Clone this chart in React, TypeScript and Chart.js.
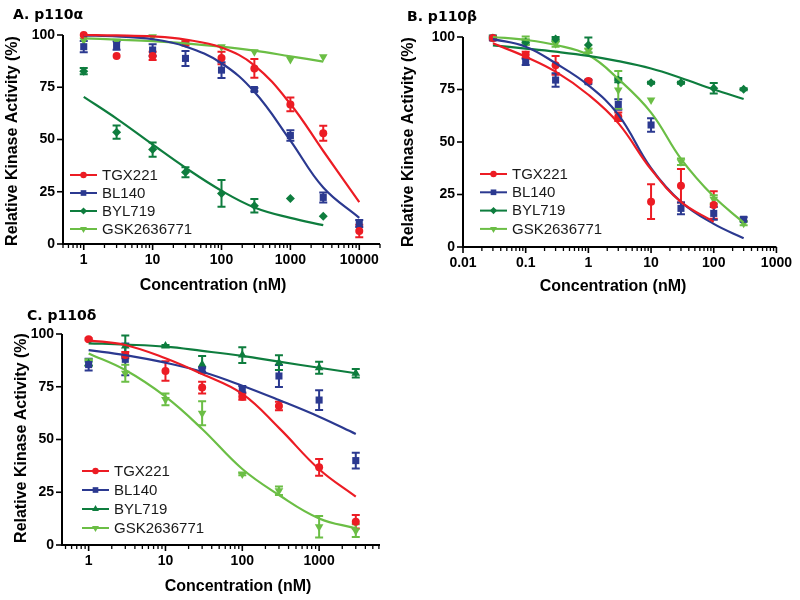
import React, { useEffect, useRef } from "react";
import { Chart, registerables } from "chart.js";

Chart.register(...registerables);
Chart.defaults.font.family = "'Liberation Sans', Arial, sans-serif";
Chart.defaults.color = "#000";

// ---------------- shared ----------------
const SERIES_NAMES = ["TGX221", "BL140", "BYL719", "GSK2636771"];
const SERIES_COLORS = ["#EC1C24", "#2B3990", "#0E7D3E", "#6BBE45"];
const Y_TICKS = [0, 25, 50, 75, 100];
const Y_TICK_LABELS = ["0", "25", "50", "75", "100"];

// ---------------- Panel A: p110α ----------------
const A_X = [1, 3, 10, 30, 100, 300, 1000, 3000, 10000];
const A_X_SHORT = [1, 3, 10, 30, 100, 300, 1000, 3000];
const A_TGX = [100, 90, 90, 96, 89, 84, 66.8, 53, 6.2];
const A_TGX_ERR = [0, 0, 2, 1, 3, 4.5, 3.3, 3.6, 3];
const A_BL = [94.4, 95, 92.8, 88.8, 83.2, 73.9, 51.9, 22.3, 9.8];
const A_BL_ERR = [2.7, 2, 2.8, 3.6, 3.8, 0.8, 2.5, 2.4, 1.7];
const A_BYL = [82.7, 53.5, 45.2, 34.3, 24.2, 18.3, 21.8, 13.3];
const A_BYL_ERR = [1.5, 3.2, 3.4, 2.4, 6.4, 3.2, 0, 0];
const A_GSK = [97.5, 97, 99.2, 96.3, 94.4, 92, 88.3, 89.6];
const A_GSK_ERR = [0, 0, 0, 0, 0, 0, 0, 0];
// fitted curves
const A_FIT_TGX = [100, 99.8, 99.3, 97.8, 94, 85.5, 67, 44.5, 20];
const A_FIT_BL = [99.8, 99.3, 98, 94.5, 86.5, 72.8, 49.5, 27, 12.5];
const A_FIT_BYL = [70.4, 60, 47.6, 36.5, 25.5, 17.5, 12.5, 9];
const A_FIT_GSK = [98.4, 97.8, 97.1, 96, 94.4, 92.5, 89.8, 87.3];
const A_X_TICKS = [1, 10, 100, 1000, 10000];
const A_X_TICK_LABELS = ["1", "10", "100", "1000", "10000"];

// ---------------- Panel B: p110β ----------------
const B_X = [0.03, 0.1, 0.3, 1, 3, 10, 30, 100, 300];
const B_X_TGX = [0.03, 0.1, 0.3, 1, 3, 10, 30, 100];
const B_TGX = [99.5, 91.5, 86.5, 79, 62, 21.6, 29.2, 20];
const B_TGX_ERR = [1, 1.5, 4.5, 0.5, 2, 8.3, 8, 6.5];
const B_BL = [99.5, 88.2, 79.5, 78.7, 67.9, 58.1, 18.4, 16, 13.2];
const B_BL_ERR = [0.8, 1.5, 3.2, 1, 2.5, 3.2, 2.8, 3, 1];
const B_BYL = [99.5, 97.5, 99, 96.2, 79.5, 78.2, 78.2, 75.6, 75.1];
const B_BYL_ERR = [0.5, 1, 1, 3.6, 1, 0.5, 0.5, 2.5, 0.5];
const B_GSK = [100, 98.2, 96.8, 93.5, 74.8, 70, 40.6, 22.7, 11.3];
const B_GSK_ERR = [0.5, 2, 1.5, 1, 9, 0, 1.5, 2, 1];
const B_FIT_TGX = [97, 90.6, 83.5, 72.5, 59, 37, 21.5, 12];
const B_FIT_BL = [99, 95.4, 87.5, 77, 63, 37.5, 21.5, 11, 4.2];
const B_FIT_BYL = [96, 94.5, 93, 91, 88.5, 85, 80.5, 75, 70.5];
const B_FIT_GSK = [100, 98.6, 96.2, 91.4, 80, 64, 42, 24, 11.6];
const B_X_TICKS = [0.01, 0.1, 1, 10, 100, 1000];
const B_X_TICK_LABELS = ["0.01", "0.1", "1", "10", "100", "1000"];

// ---------------- Panel C: p110δ ----------------
const C_X = [1, 3, 10, 30, 100, 300, 1000, 3000];
const C_TGX = [97.5, 90, 82.5, 74.6, 70.3, 65.9, 36.8, 11];
const C_TGX_ERR = [0.5, 1.5, 4.6, 2.8, 1.5, 2, 4, 3.2];
const C_BL = [85.5, 88, null, 83, 73.8, 80.1, 68.7, 40];
const C_BL_ERR = [2.8, 7.5, 0, 1, 1.5, 5.2, 4.7, 3.7];
const C_BYL = [86, 94.3, 94.3, 85.6, 90, 86.4, 84, 81.4];
const C_BYL_ERR = [1, 5, 0.5, 4, 3.7, 3.5, 2.8, 2];
const C_GSK = [86.5, 81.4, 69, 62.4, 33.6, 25.7, 8.7, 6.8];
const C_GSK_ERR = [1.5, 4, 2.8, 5.7, 0.5, 2, 5.1, 3];
const C_FIT_TGX = [97, 94.8, 88.5, 81, 71.6, 55.5, 35.9, 22.9];
const C_FIT_BL = [92.4, 90, 86.4, 82.1, 75.5, 68.7, 60.8, 52.6];
const C_FIT_BYL = [95.6, 95, 94, 92, 89.6, 86.9, 84, 81.4];
const C_FIT_GSK = [90.8, 82.9, 70.3, 55, 36, 23.7, 12.6, 7.9];
const C_X_TICKS = [1, 10, 100, 1000];
const C_X_TICK_LABELS = ["1", "10", "100", "1000"];

// ---------------- helpers ----------------
type Series = {
  name: string;
  color: string;
  style: string;
  radius: number;
  rotation: number;
  x: number[];
  y: (number | null)[];
  err: number[];
  fitX: number[];
  fitY: number[];
};

function mk(
  i: number,
  style: string,
  radius: number,
  rotation: number,
  x: number[],
  y: (number | null)[],
  err: number[],
  fitX: number[],
  fitY: number[]
): Series {
  return { name: SERIES_NAMES[i], color: SERIES_COLORS[i], style, radius, rotation, x, y, err, fitX, fitY };
}

const PANELS = [
  {
    title: "A. p110α",
    box: { left: 0, top: 0, width: 400, height: 300 },
    pad: { top: 35, right: 20 },
    yW: 63,
    xH: 56,
    xMin: 0.5,
    xMax: 20000,
    xTicks: A_X_TICKS,
    xTickLabels: A_X_TICK_LABELS,
    titlePos: [13, 18.5],
    yTitlePos: [13, 141],
    xTitlePos: [213, 286],
    legend: { x: 70, y: 175, step: 18 },
    series: [
      mk(0, "circle", 4, 0, A_X, A_TGX, A_TGX_ERR, A_X, A_FIT_TGX),
      mk(1, "rect", 5, 0, A_X, A_BL, A_BL_ERR, A_X, A_FIT_BL),
      mk(2, "rectRot", 4.5, 0, A_X_SHORT, A_BYL, A_BYL_ERR, A_X_SHORT, A_FIT_BYL),
      mk(3, "triangle", 5, 180, A_X_SHORT, A_GSK, A_GSK_ERR, A_X_SHORT, A_FIT_GSK),
    ],
  },
  {
    title: "B. p110β",
    box: { left: 400, top: 0, width: 400, height: 300 },
    pad: { top: 37, right: 22 },
    yW: 63,
    xH: 53,
    xMin: 0.01,
    xMax: 1000,
    xTicks: B_X_TICKS,
    xTickLabels: B_X_TICK_LABELS,
    titlePos: [7, 20.5],
    yTitlePos: [9, 142],
    xTitlePos: [213, 287],
    legend: { x: 80, y: 174, step: 18.3 },
    series: [
      mk(0, "circle", 4, 0, B_X_TGX, B_TGX, B_TGX_ERR, B_X_TGX, B_FIT_TGX),
      mk(1, "rect", 5, 0, B_X, B_BL, B_BL_ERR, B_X, B_FIT_BL),
      mk(2, "rectRot", 4.5, 0, B_X, B_BYL, B_BYL_ERR, B_X, B_FIT_BYL),
      mk(3, "triangle", 5, 180, B_X, B_GSK, B_GSK_ERR, B_X, B_FIT_GSK),
    ],
  },
  {
    title: "C. p110δ",
    box: { left: 0, top: 300, width: 420, height: 300 },
    pad: { top: 34, right: 40 },
    yW: 62,
    xH: 55,
    xMin: 0.45,
    xMax: 6200,
    xTicks: C_X_TICKS,
    xTickLabels: C_X_TICK_LABELS,
    titlePos: [27, 20],
    yTitlePos: [22, 138],
    xTitlePos: [238, 287],
    legend: { x: 82, y: 171, step: 19 },
    series: [
      mk(0, "circle", 4, 0, C_X, C_TGX, C_TGX_ERR, C_X, C_FIT_TGX),
      mk(1, "rect", 5, 0, C_X, C_BL, C_BL_ERR, C_X, C_FIT_BL),
      mk(2, "triangle", 5, 0, C_X, C_BYL, C_BYL_ERR, C_X, C_FIT_BYL),
      mk(3, "triangle", 5, 180, C_X, C_GSK, C_GSK_ERR, C_X, C_FIT_GSK),
    ],
  },
];

function drawMarker(ctx: CanvasRenderingContext2D, style: string, rotation: number, x: number, y: number, r: number, color: string) {
  ctx.save();
  ctx.fillStyle = color;
  ctx.beginPath();
  if (style === "circle") {
    ctx.arc(x, y, r, 0, Math.PI * 2);
  } else if (style === "rect") {
    const s = r * Math.SQRT1_2;
    ctx.rect(x - s, y - s, 2 * s, 2 * s);
  } else if (style === "rectRot") {
    ctx.moveTo(x, y - r);
    ctx.lineTo(x + r, y);
    ctx.lineTo(x, y + r);
    ctx.lineTo(x - r, y);
    ctx.closePath();
  } else {
    let rad = (rotation * Math.PI) / 180;
    for (let k = 0; k < 3; k++) {
      const px = x + Math.sin(rad) * r;
      const py = y - Math.cos(rad) * r;
      if (k === 0) ctx.moveTo(px, py);
      else ctx.lineTo(px, py);
      rad += (2 * Math.PI) / 3;
    }
    ctx.closePath();
  }
  ctx.fill();
  ctx.restore();
}

const prismPlugin = {
  id: "prism",
  beforeDatasetsDraw(chart: any, _args: any, opts: any) {
    const { ctx, chartArea: ca, scales } = chart;
    const x = scales.x;
    const y = scales.y;
    ctx.save();
    ctx.strokeStyle = "#000";
    ctx.lineCap = "butt";
    // axis lines
    ctx.lineWidth = 2;
    ctx.beginPath();
    ctx.moveTo(ca.left, y.getPixelForValue(100));
    ctx.lineTo(ca.left, ca.bottom + 1);
    ctx.stroke();
    ctx.beginPath();
    ctx.moveTo(ca.left - 1, ca.bottom);
    ctx.lineTo(ca.right, ca.bottom);
    ctx.stroke();
    // y ticks
    ctx.lineWidth = 1.6;
    for (const v of Y_TICKS) {
      const py = y.getPixelForValue(v);
      ctx.beginPath();
      ctx.moveTo(ca.left - 6, py);
      ctx.lineTo(ca.left, py);
      ctx.stroke();
    }
    // x ticks (major + minor, log)
    const e0 = Math.floor(Math.log10(opts.xMin));
    const e1 = Math.ceil(Math.log10(opts.xMax));
    for (let e = e0; e <= e1; e++) {
      for (let m = 1; m <= 9; m++) {
        const v = m * Math.pow(10, e);
        if (v < opts.xMin * 0.999 || v > opts.xMax * 1.001) continue;
        const px = x.getPixelForValue(v);
        ctx.lineWidth = m === 1 ? 1.6 : 1.3;
        ctx.beginPath();
        ctx.moveTo(px, ca.bottom);
        ctx.lineTo(px, ca.bottom + (m === 1 ? 6 : 4));
        ctx.stroke();
      }
    }
    // error bars
    ctx.lineWidth = 2;
    for (const s of opts.series as Series[]) {
      ctx.strokeStyle = s.color;
      s.x.forEach((xv, i) => {
        const v = s.y[i];
        const e = s.err[i];
        if (v === null || !e) return;
        const px = x.getPixelForValue(xv);
        const t = y.getPixelForValue(v + e);
        const b = y.getPixelForValue(v - e);
        ctx.beginPath();
        ctx.moveTo(px, t);
        ctx.lineTo(px, b);
        ctx.moveTo(px - 4, t);
        ctx.lineTo(px + 4, t);
        ctx.moveTo(px - 4, b);
        ctx.lineTo(px + 4, b);
        ctx.stroke();
      });
    }
    ctx.restore();
  },
  afterDraw(chart: any, _args: any, opts: any) {
    const { ctx } = chart;
    ctx.save();
    // panel title
    ctx.fillStyle = "#000";
    ctx.font = "bold 14px 'DejaVu Sans', sans-serif";
    ctx.textAlign = "left";
    ctx.textBaseline = "alphabetic";
    ctx.fillText(opts.title, opts.titlePos[0], opts.titlePos[1]);
    // axis titles
    ctx.font = "bold 16px 'Liberation Sans', Arial, sans-serif";
    ctx.textAlign = "center";
    ctx.textBaseline = "middle";
    ctx.fillText("Concentration (nM)", opts.xTitlePos[0], opts.xTitlePos[1]);
    ctx.save();
    ctx.translate(opts.yTitlePos[0], opts.yTitlePos[1]);
    ctx.rotate(-Math.PI / 2);
    ctx.fillText("Relative Kinase Activity (%)", 0, 0);
    ctx.restore();
    // legend
    const lg = opts.legend;
    ctx.font = "15px 'Liberation Sans', Arial, sans-serif";
    ctx.textAlign = "left";
    (opts.series as Series[]).forEach((s, i) => {
      const yy = lg.y + i * lg.step;
      ctx.strokeStyle = s.color;
      ctx.lineWidth = 2;
      ctx.beginPath();
      ctx.moveTo(lg.x, yy);
      ctx.lineTo(lg.x + 27, yy);
      ctx.stroke();
      drawMarker(ctx, s.style, s.rotation, lg.x + 13.5, yy, s.radius * 0.8, s.color);
      ctx.fillStyle = "#1a1a1a";
      ctx.fillText(s.name, lg.x + 32, yy + 0.5);
    });
    ctx.restore();
  },
};

function Panel({ cfg }: { cfg: (typeof PANELS)[number] }) {
  const ref = useRef<HTMLCanvasElement | null>(null);
  useEffect(() => {
    if (!ref.current) return;
    const datasets: any[] = [];
    cfg.series.forEach((s) => {
      datasets.push({
        label: s.name + " fit",
        data: s.fitX.map((xv, i) => ({ x: xv, y: s.fitY[i] })),
        borderColor: s.color,
        backgroundColor: s.color,
        borderWidth: 2.2,
        pointRadius: 0,
        tension: 0.4,
        clip: false,
      });
    });
    cfg.series.forEach((s) => {
      datasets.push({
        label: s.name,
        data: s.x.map((xv, i) => ({ x: xv, y: s.y[i] })),
        showLine: false,
        borderColor: s.color,
        backgroundColor: s.color,
        pointStyle: s.style,
        pointRotation: s.rotation,
        pointRadius: s.radius,
        pointBorderWidth: 0,
        clip: false,
      });
    });
    const chart = new Chart(ref.current, {
      type: "line",
      data: { datasets },
      plugins: [prismPlugin as any],
      options: {
        animation: false,
        responsive: false,
        events: [],
        layout: { padding: { top: cfg.pad.top, right: cfg.pad.right, left: 0, bottom: 0 } },
        plugins: {
          legend: { display: false },
          tooltip: { enabled: false },
          prism: {
            title: cfg.title,
            titlePos: cfg.titlePos,
            xTitlePos: cfg.xTitlePos,
            yTitlePos: cfg.yTitlePos,
            legend: cfg.legend,
            series: cfg.series,
            xMin: cfg.xMin,
            xMax: cfg.xMax,
          },
        } as any,
        scales: {
          x: {
            type: "logarithmic",
            min: cfg.xMin,
            max: cfg.xMax,
            grid: { display: false, drawTicks: false },
            border: { display: false },
            afterBuildTicks: (sc: any) => {
              sc.ticks = cfg.xTicks.map((v) => ({ value: v, major: true }));
            },
            afterFit: (sc: any) => {
              sc.height = cfg.xH;
            },
            ticks: {
              autoSkip: false,
              maxRotation: 0,
              padding: 8,
              font: { size: 14, weight: "bold" },
              color: "#000",
              callback: (_v: any, i: number) => cfg.xTickLabels[i],
            },
          },
          y: {
            type: "linear",
            min: 0,
            max: 100,
            grid: { display: false, drawTicks: false },
            border: { display: false },
            afterBuildTicks: (sc: any) => {
              sc.ticks = Y_TICKS.map((v) => ({ value: v }));
            },
            afterFit: (sc: any) => {
              sc.width = cfg.yW;
            },
            ticks: {
              padding: 8,
              font: { size: 14, weight: "bold" },
              color: "#000",
              callback: (_v: any, i: number) => Y_TICK_LABELS[i],
            },
          },
        },
      } as any,
    });
    return () => chart.destroy();
  }, [cfg]);
  const b = cfg.box;
  return (
    <canvas
      ref={ref}
      width={b.width}
      height={b.height}
      style={{ position: "absolute", left: b.left, top: b.top, width: b.width, height: b.height }}
    />
  );
}

export default function App() {
  return (
    <div style={{ position: "absolute", left: 0, top: 0, width: 800, height: 600, background: "#fff", overflow: "hidden" }}>
      {PANELS.map((p) => (
        <Panel key={p.title} cfg={p} />
      ))}
    </div>
  );
}
